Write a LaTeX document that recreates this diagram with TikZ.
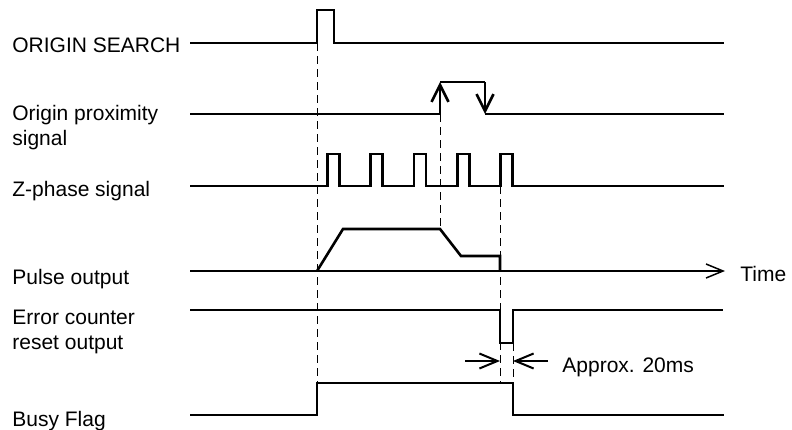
\documentclass[tikz,border=0pt]{standalone}
\usepackage{fontspec}
\setmainfont{Liberation Sans}
\usetikzlibrary{arrows.meta}

\begin{document}
\begin{tikzpicture}[
  x=0.5pt, y=-0.5pt,
  every node/.style={font=\fontsize{10.5}{12.5}\selectfont, inner sep=0pt, anchor=base west, align=left},
  sig/.style={line width=1.3pt, line join=miter},
  guide/.style={dash pattern=on 4pt off 2.5pt, line width=0.5pt},
  barb/.style={-{Straight Barb[length=8.5pt, width=8.5pt]}}
]
\useasboundingbox (0,0) rectangle (792,429);

% labels
\node (lsearch) at (12,52) {ORIGIN SEARCH};
\node (lprox) at (12,145) {Origin proximity\\signal};
\node (lzphase) at (12,196) {Z-phase signal};
\node (lpulse) at (12,284) {Pulse output};
\node (lerror) at (12,349) {Error counter\\reset output};
\node (lbusy) at (12,426) {Busy Flag};
\node (ltime) at (740,281) {Time};
\node (lapprox) at (562,372) {Approx. 20ms};

% ORIGIN SEARCH
\draw[sig] (190,43) -- (317,43) -- (317,10) -- (334,10) -- (334,43) -- (724,43);

% origin proximity
\draw[sig] (190,114) -- (440,114);
\draw[sig, barb] (440,114) -- (440,82);
\draw[sig] (440,82) -- (485,82);
\draw[sig, barb] (485,82) -- (485,114);
\draw[sig] (485,114) -- (724,114);

% Z-phase
\draw[sig] (190,186)
  foreach \r in {327.5,370.75,414,457.25,500.5} { -- (\r,186) -- (\r,154) -- (\r+12,154) -- (\r+12,186) }
  -- (724,186);

% pulse output
\draw[line width=0.75pt, -{Straight Barb[length=8.5pt, width=7pt]}] (190,271) -- (725,271);
\draw[sig] (317,271) -- (343,229) -- (440,229) -- (461,256) -- (500,256) -- (500,271);

% error counter reset
\draw[sig] (190,310) -- (500,310) -- (500,343) -- (513,343) -- (513,310) -- (723,310);

% busy flag
\draw[sig] (190,415) -- (317,415) -- (317,383) -- (513,383) -- (513,415) -- (724,415);

% guides
\coordinate (g1a) at (317,43);  \coordinate (g1b) at (317,383);
\coordinate (g2a) at (440,114); \coordinate (g2b) at (440,229);
\coordinate (g3a) at (500,186); \coordinate (g3b) at (500,383);
\coordinate (g4a) at (513,343); \coordinate (g4b) at (513,383);
\draw[guide] (g1a) -- (g1b);
\draw[guide] (g2a) -- (g2b);
\draw[guide] (g3a) -- (g3b);
\draw[guide] (g4a) -- (g4b);

% approx. 20ms
\draw[line width=1pt, -{Straight Barb[length=9pt, width=7.5pt]}] (465,361) -- (g3a |- 0,361);
\draw[line width=1pt, -{Straight Barb[length=9pt, width=7.5pt]}] (548,361) -- (g4a |- 0,361);

\end{tikzpicture}
\end{document}
